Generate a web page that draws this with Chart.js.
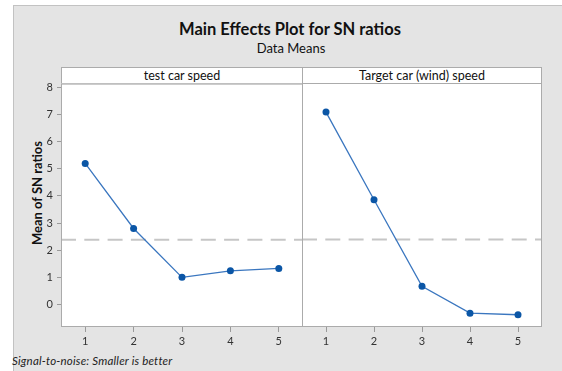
<!DOCTYPE html>
<html>
<head>
<meta charset="utf-8">
<script src="https://cdn.jsdelivr.net/npm/chart.js@4.4.1/dist/chart.umd.min.js"></script>
<style>
  body { margin: 0; background: #fff; width: 562px; height: 371px; overflow: hidden; position: relative; font-family: Lato, "Noto Sans", sans-serif; }
  #frame { position: absolute; left: 13px; top: 5px; width: 560px; height: 380px; background: #e4e4e4; border-left: 1px solid #c2c2c2; border-top: 1px solid #c2c2c2; }
  .txt { position: absolute; color: #111; white-space: nowrap; }
  #title { left: 290px; top: 19px; transform: translateX(-50%); font-weight: bold; font-size: 16.5px; }
  #subtitle { left: 291px; top: 40px; transform: translateX(-50%); font-size: 13px; }
  #ytitle { left: 37px; top: 193px; font-weight: bold; font-size: 13px; transform: translate(-50%, -50%) rotate(-90deg); }
  #note { left: 12px; top: 354px; font-style: italic; font-size: 11.5px; letter-spacing: 0.2px; color: #222; }
  .strip { position: absolute; top: 67px; height: 15px; background: #fff; border: 1px solid #ababab; text-align: center; font-size: 12.5px; line-height: 15px; color: #111; box-sizing: content-box; }
  canvas { position: absolute; }
</style>
</head>
<body>
<div id="frame"></div>
<div class="txt" id="title">Main Effects Plot for SN ratios</div>
<div class="txt" id="subtitle">Data Means</div>
<div class="txt" id="ytitle">Mean of SN ratios</div>
<div class="strip" style="left:61px;width:240px;">test car speed</div>
<div class="strip" style="left:303px;width:238px;border-left:none;">Target car (wind) speed</div>
<div class="txt" id="note">Signal-to-noise: Smaller is better</div>
<canvas id="left" width="313" height="280" style="left:0;top:73px;width:313px;height:280px"></canvas>
<canvas id="right" width="260" height="280" style="left:292px;top:73px;width:260px;height:280px"></canvas>
<script>
// factor levels and mean SN ratio per level
const levels = [1, 2, 3, 4, 5]
const testCarSpeed = [5.20, 2.80, 1.00, 1.24, 1.33]
const targetCarSpeed = [7.07, 3.85, 0.67, -0.32, -0.38]
const overallMean = 2.39
const yTicks = [0, 1, 2, 3, 4, 5, 6, 7, 8]
const yMin = -0.83
const yMax = 8.14

const lineColor = "#3a76bf"
const pointColor = "#0b56a6"
const frameColor = "#ababab"

// white plot area with a thin gray box around each panel
const framePlugin = {
  id: "panelFrame",
  beforeDraw(chart) {
    const { ctx, chartArea: a } = chart
    ctx.save()
    ctx.fillStyle = "#fff"
    ctx.fillRect(a.left, a.top, a.right - a.left, a.bottom - a.top)
    ctx.restore()
  },
  afterDraw(chart) {
    const { ctx, chartArea: a } = chart
    ctx.save()
    ctx.strokeStyle = frameColor
    ctx.lineWidth = 1
    ctx.strokeRect(a.left + 0.5, a.top + 0.5, a.right - a.left - 1, a.bottom - a.top - 1)
    ctx.restore()
  }
}

function buildPanel(id, values, showY) {
  const ctx = document.getElementById(id).getContext("2d")
  return new Chart(ctx, {
    type: "line",
    data: {
      datasets: [
        {
          data: levels.map((x, i) => ({ x, y: values[i] })),
          borderColor: lineColor,
          backgroundColor: pointColor,
          borderWidth: 1.3,
          pointRadius: 3.5,
          pointBorderWidth: 0,
          pointBackgroundColor: pointColor,
          tension: 0,
          order: 1
        },
        {
          data: [{ x: 0.5, y: overallMean }, { x: 5.5, y: overallMean }],
          borderColor: "#c6c6c6",
          borderWidth: 2,
          borderDash: [15, 8.3],
          pointRadius: 0,
          order: 2
        }
      ]
    },
    options: {
      responsive: false,
      animation: false,
      events: [],
      layout: { padding: { top: 10, right: 10, left: showY ? 0 : 10, bottom: 0 } },
      plugins: { legend: { display: false }, tooltip: { enabled: false } },
      scales: {
        x: {
          type: "linear",
          min: 0.5,
          max: 5.5,
          afterBuildTicks: (scale) => { scale.ticks = levels.map((v) => ({ value: v })) },
          afterFit: (scale) => { scale.height = 26 },
          border: { display: false },
          grid: { drawOnChartArea: false, tickLength: 5, color: "#9a9a9a" },
          ticks: { color: "#333", padding: 3, font: { family: "Lato", size: 11 } }
        },
        y: {
          display: showY,
          min: yMin,
          max: yMax,
          afterBuildTicks: (scale) => { scale.ticks = yTicks.map((v) => ({ value: v })) },
          afterFit: (scale) => { scale.width = showY ? 61 : 0 },
          border: { display: false },
          grid: { drawOnChartArea: false, tickLength: 4, color: "#9a9a9a" },
          ticks: { color: "#333", padding: 4, font: { family: "Lato", size: 11 } }
        }
      }
    },
    plugins: [framePlugin]
  })
}

buildPanel("left", testCarSpeed, true)
buildPanel("right", targetCarSpeed, false)
</script>
</body>
</html>
